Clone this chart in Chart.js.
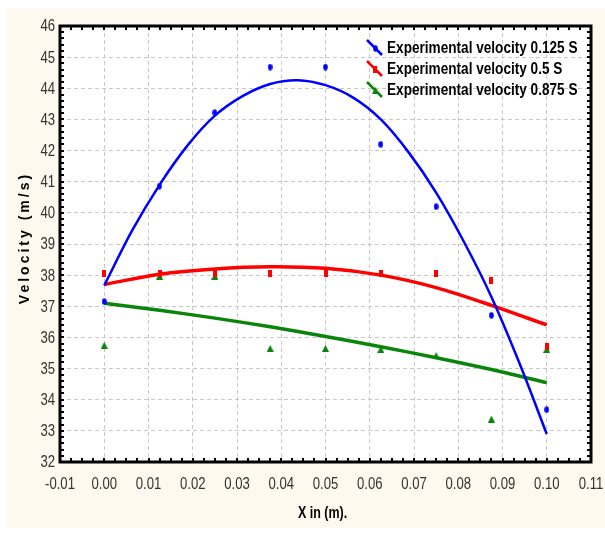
<!DOCTYPE html>
<html>
<head>
<meta charset="utf-8">
<script src="https://cdn.jsdelivr.net/npm/chart.js@4.4.0/dist/chart.umd.min.js"></script>
<style>
  html, body { margin: 0; padding: 0; background: #fff; }
  #wrap { position: absolute; left: 7px; top: 8px; width: 598px; height: 520px; }
</style>
</head>
<body>
<div id="wrap"><canvas id="chart" width="598" height="520"></canvas></div>
<script>
// measured velocities at each position along the channel
const xPositions = [0, 0.0125, 0.025, 0.0375, 0.05, 0.0625, 0.075, 0.0875, 0.1];
const velocity0125 = [37.15, 40.86, 43.22, 44.68, 44.68, 42.2, 40.2, 36.71, 33.68];
const velocity05 = [38.06, 38.06, 38.06, 38.06, 38.06, 38.06, 38.05, 37.84, 35.7];
const velocity0875 = [35.75, 37.97, 37.97, 35.65, 35.65, 35.62, 35.42, 33.38, 35.62];

// fitted curves
const fitX0125 = [0, 0.00625, 0.0125, 0.01875, 0.025, 0.03125, 0.0375, 0.04375, 0.05,
  0.05625, 0.0625, 0.06875, 0.075, 0.08125, 0.0875, 0.09375, 0.1];
const fit0125 = [37.67, 39.42, 40.9, 42.15, 43.12, 43.75, 44.14, 44.26, 44.1,
  43.7, 43.0, 41.95, 40.65, 39.08, 37.3, 35.2, 32.9];
const fit05 = [37.7, 38.03, 38.2, 38.27, 38.22, 38.0, 37.6, 37.03, 36.4];
const fit0875 = [37.1, 36.87, 36.62, 36.34, 36.03, 35.7, 35.35, 34.97, 34.55];

const seriesLabels = ['Experimental velocity 0.125 S', 'Experimental velocity 0.5 S', 'Experimental velocity 0.875 S'];
const seriesColors = ['#0000ff', '#ff0000', '#0a850a'];
const xTickLabels = ['-0.01', '0.00', '0.01', '0.02', '0.03', '0.04', '0.05', '0.06', '0.07', '0.08', '0.09', '0.10', '0.11'];
const yTickLabels = ['32', '33', '34', '35', '36', '37', '38', '39', '40', '41', '42', '43', '44', '45', '46'];
const xTitle = 'X in (m).';
const yTitle = 'Velocity (m/s)';

const sans = "'Liberation Sans', Arial, sans-serif";

// Arial squeezed horizontally, close to Arial Narrow
function narrowText(ctx, text, x, y, font, squeeze, align) {
  ctx.save();
  ctx.translate(x, y);
  ctx.scale(squeeze, 1);
  ctx.font = font;
  ctx.textAlign = align;
  ctx.textBaseline = 'middle';
  ctx.fillText(text, 0, 0);
  ctx.restore();
}

function marker(kind, color) {
  const c = document.createElement('canvas');
  if (kind === 'ellipse') { c.width = 5; c.height = 7; }
  else if (kind === 'rect') { c.width = 4; c.height = 7; }
  else { c.width = 7; c.height = 7; }
  const ctx = c.getContext('2d');
  ctx.fillStyle = color;
  ctx.beginPath();
  if (kind === 'ellipse') {
    ctx.ellipse(2.5, 3.5, 2.3, 3.2, 0, 0, Math.PI * 2);
  } else if (kind === 'rect') {
    ctx.rect(0, 0, 4, 7);
  } else {
    ctx.moveTo(3.5, 0); ctx.lineTo(7, 7); ctx.lineTo(0, 7); ctx.closePath();
  }
  ctx.fill();
  return c;
}
const markers = [marker('ellipse', seriesColors[0]), marker('rect', seriesColors[1]), marker('triangle', seriesColors[2])];

const toPoints = (xs, ys) => xs.map((x, i) => ({x, y: ys[i]}));

const background = {
  id: 'background',
  beforeDraw(chart) {
    const {ctx, chartArea: a} = chart;
    ctx.save();
    ctx.fillStyle = '#fdf9ee';
    ctx.fillRect(0, 0, chart.width, chart.height);
    ctx.fillStyle = '#ffffff';
    ctx.fillRect(a.left, a.top, a.right - a.left, a.bottom - a.top);
    ctx.restore();
  }
};

// heavy frame with small inward ticks
const frame = {
  id: 'frame',
  afterDatasetsDraw(chart) {
    const {ctx, chartArea: a, scales} = chart;
    ctx.save();
    ctx.fillStyle = '#000';
    for (let i = 0; i <= 48; i++) {
      const px = Math.round(scales.x.getPixelForValue(-0.01 + i * 0.0025));
      ctx.fillRect(px - 1, a.top, 2, 4);
      ctx.fillRect(px - 1, a.bottom - 4, 2, 4);
    }
    for (let i = 0; i <= 70; i++) {
      const py = Math.round(scales.y.getPixelForValue(32 + i * 0.2));
      ctx.fillRect(a.left, py - 1, 4, 2);
      ctx.fillRect(a.right - 4, py - 1, 4, 2);
    }
    ctx.strokeStyle = '#000';
    ctx.lineWidth = 3;
    ctx.strokeRect(a.left, a.top, a.right - a.left, a.bottom - a.top);
    ctx.restore();
  }
};

// tick labels and axis titles in a narrow face
const axisText = {
  id: 'axisText',
  afterDraw(chart) {
    const {ctx, chartArea: a, scales} = chart;
    ctx.save();
    ctx.fillStyle = '#333';
    scales.x.ticks.forEach((t, i) => {
      narrowText(ctx, xTickLabels[i], scales.x.getPixelForValue(t.value), a.bottom + 23, '16px ' + sans, 0.82, 'center');
    });
    scales.y.ticks.forEach((t, i) => {
      narrowText(ctx, yTickLabels[i], a.left - 5, scales.y.getPixelForValue(t.value) + 1, '16px ' + sans, 0.82, 'right');
    });
    ctx.fillStyle = '#000';
    narrowText(ctx, xTitle, (a.left + a.right) / 2 - 3, a.bottom + 52, 'bold 16px ' + sans, 0.78, 'center');
    ctx.save();
    ctx.translate(18, (a.top + a.bottom) / 2 - 6);
    ctx.rotate(-Math.PI / 2);
    ctx.font = 'bold 14px ' + sans;
    ctx.letterSpacing = '3px';
    ctx.textAlign = 'center';
    ctx.textBaseline = 'middle';
    ctx.fillText(yTitle, 0, 0);
    ctx.restore();
    ctx.restore();
  }
};

const insideLegend = {
  id: 'insideLegend',
  afterDraw(chart) {
    const {ctx, chartArea: a} = chart;
    ctx.save();
    seriesLabels.forEach((label, i) => {
      const x = a.right - 204;
      const y = a.top + 22 + i * 21;
      ctx.strokeStyle = seriesColors[i];
      ctx.lineWidth = 2.5;
      ctx.beginPath();
      ctx.moveTo(x - 20, y - 8);
      ctx.lineTo(x - 5, y + 7);
      ctx.stroke();
      const m = markers[i];
      ctx.drawImage(m, Math.round(x - 12 - m.width / 2), Math.round(y - m.height / 2));
      ctx.fillStyle = '#000';
      narrowText(ctx, label, x, y + 1, 'bold 16px ' + sans, 0.85, 'left');
    });
    ctx.restore();
  }
};

const pointSet = (i, ys) => ({
  label: seriesLabels[i],
  data: toPoints(xPositions, ys),
  showLine: false,
  pointStyle: markers[i],
  pointRadius: 3,
  borderColor: seriesColors[i],
  backgroundColor: seriesColors[i],
});

const fitSet = (i, xs, ys, width) => ({
  label: seriesLabels[i] + ' fit',
  data: toPoints(xs, ys),
  showLine: true,
  pointRadius: 0,
  borderColor: seriesColors[i],
  borderWidth: width,
  tension: 0.3,
  fill: false,
});

new Chart(document.getElementById('chart').getContext('2d'), {
  type: 'scatter',
  data: {
    datasets: [
      pointSet(0, velocity0125),
      pointSet(1, velocity05),
      pointSet(2, velocity0875),
      fitSet(0, fitX0125, fit0125, 2.5),
      fitSet(1, xPositions, fit05, 3.5),
      fitSet(2, xPositions, fit0875, 3.5),
    ]
  },
  options: {
    responsive: false,
    animation: false,
    layout: { padding: { top: 18, right: 14, left: 0, bottom: 0 } },
    plugins: { legend: { display: false }, tooltip: { enabled: false } },
    scales: {
      x: {
        type: 'linear',
        min: -0.01,
        max: 0.11,
        ticks: { stepSize: 0.01, autoSkip: false, display: false },
        grid: { color: '#c8c8c8', lineWidth: 1, drawTicks: false },
        border: { display: false, dash: [4, 3] },
        afterFit(s) { s.height = 66; s.paddingLeft = 0; s.paddingRight = 0; },
      },
      y: {
        min: 32,
        max: 46,
        ticks: { stepSize: 1, autoSkip: false, display: false },
        grid: { color: '#c8c8c8', lineWidth: 1, drawTicks: false },
        border: { display: false, dash: [4, 3] },
        afterFit(s) { s.width = 53; s.paddingTop = 0; s.paddingBottom = 0; },
      }
    }
  },
  plugins: [background, frame, axisText, insideLegend]
});
</script>
</body>
</html>
